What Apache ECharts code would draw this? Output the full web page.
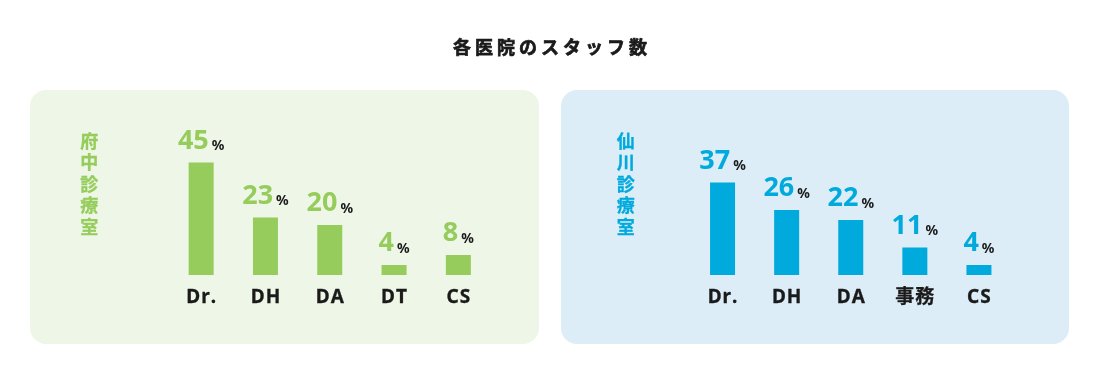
<!DOCTYPE html>
<html>
<head>
<meta charset="utf-8">
<script src="https://cdn.jsdelivr.net/npm/echarts@6/dist/echarts.min.js"></script>
<style>
html,body{margin:0;padding:0;background:#fff;}
#c{width:1100px;height:375px;}
</style>
</head>
<body>
<div id="c"></div>
<script>
const chartTitle = '各医院のスタッフ数';
const leftClinic = '府中診療室';
const rightClinic = '仙川診療室';
const leftCategories = ['Dr.', 'DH', 'DA', 'DT', 'CS'];
const leftValues = [45, 23, 20, 4, 8];
const rightCategories = ['Dr.', 'DH', 'DA', '事務', 'CS'];
const rightValues = [37, 26, 22, 11, 4];

const GREEN = '#95cc5b';
const BLUE = '#00aadc';
const DARK = '#1a1a1a';
const LATIN = '"Noto Sans", "Noto Sans CJK JP", sans-serif';
const JP = '"Noto Sans CJK JP", "Noto Sans", sans-serif';

const chart = echarts.init(document.getElementById('c'));

function spaced(str) {
  return str.split('').map(c => '{a|' + c + '}').join('');
}
function vertical(str) {
  return str.split('').join('\n');
}
function barLabel(color) {
  return {
    show: true,
    position: 'top',
    distance: 8,
    formatter: p => '{v|' + p.value + '}{p|%}',
    rich: {
      v: { fontSize: 27, fontWeight: 'bold', color: color, fontFamily: LATIN, verticalAlign: 'bottom', lineHeight: 28 },
      p: { fontSize: 14, fontWeight: 'bold', color: DARK, fontFamily: LATIN, padding: [0, 0, 1, 3], verticalAlign: 'bottom' }
    }
  };
}
function xAxis(gridIndex, data) {
  return {
    type: 'category', gridIndex, data,
    axisLine: { show: false }, axisTick: { show: false }, splitLine: { show: false },
    axisLabel: {
      interval: 0,
      margin: 13,
      formatter: v => spaced(v),
      rich: { a: { fontSize: 19, fontWeight: 'bold', color: DARK, fontFamily: LATIN, padding: [0, 0.5], textBorderColor: DARK, textBorderWidth: 0.3 } }
    }
  };
}
function yAxis(gridIndex) {
  return { type: 'value', gridIndex, min: 0, max: 50, show: false, splitLine: { show: false } };
}
function sideTitle(str, x, color) {
  return {
    type: 'text', left: x, top: 130,
    style: { text: vertical(str), fill: color, fontSize: 18, fontWeight: 'bold', fontFamily: JP, lineHeight: 21.5, stroke: color, lineWidth: 0.3 }
  };
}

chart.setOption({
  animation: false,
  backgroundColor: '#ffffff',
  title: {
    text: spaced(chartTitle),
    left: 'center',
    top: 33,
    textStyle: {
      rich: { a: { fontSize: 18, fontWeight: 'bold', color: DARK, fontFamily: JP, padding: [0, 2], textBorderColor: DARK, textBorderWidth: 0.7 } }
    }
  },
  graphic: [
    { type: 'rect', z: -10, shape: { x: 30, y: 90, width: 509, height: 254, r: 16 }, style: { fill: '#eef7e7' } },
    { type: 'rect', z: -10, shape: { x: 561, y: 90, width: 508, height: 254, r: 16 }, style: { fill: '#dcedf7' } },
    sideTitle(leftClinic, 80, GREEN),
    sideTitle(rightClinic, 616.5, BLUE)
  ],
  grid: [
    { left: 169, width: 321.5, top: 150, bottom: 100 },
    { left: 690.5, width: 320.5, top: 150, bottom: 100 }
  ],
  xAxis: [xAxis(0, leftCategories), xAxis(1, rightCategories)],
  yAxis: [yAxis(0), yAxis(1)],
  series: [
    { type: 'bar', xAxisIndex: 0, yAxisIndex: 0, data: leftValues, barWidth: 25, itemStyle: { color: GREEN }, label: barLabel(GREEN) },
    { type: 'bar', xAxisIndex: 1, yAxisIndex: 1, data: rightValues, barWidth: 25, itemStyle: { color: BLUE }, label: barLabel(BLUE) }
  ]
});
</script>
</body>
</html>
